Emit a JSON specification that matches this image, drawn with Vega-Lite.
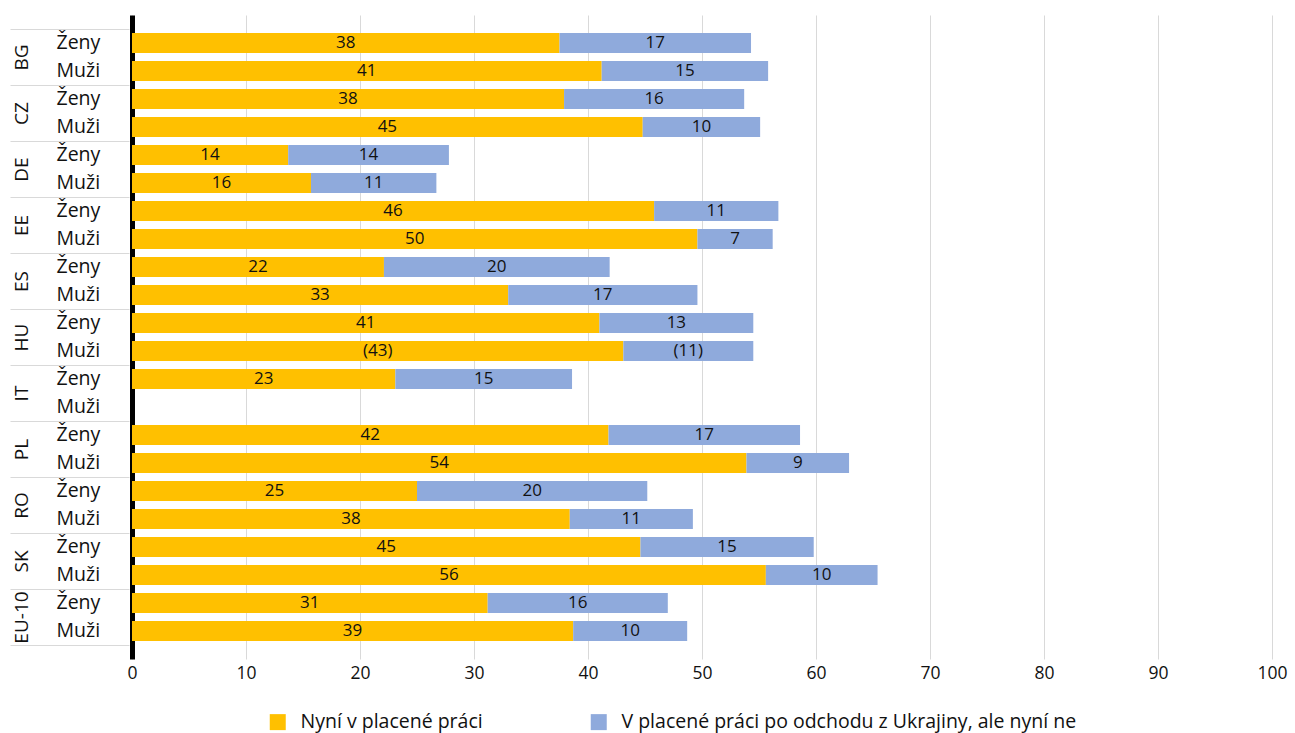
{
  "$schema": "https://vega.github.io/schema/vega-lite/v6.json",
  "width": 1140,
  "height": 644,
  "autosize": {"type": "none"},
  "padding": {"left": 132, "top": 15, "right": 23, "bottom": 74},
  "background": "white",
  "config": {"view": {"stroke": null}, "font": "Open Sans"},
  "data": {
    "values": [
      {"country": "BG", "key": "BG Ženy", "series": "Nyní v placené práci", "value": 37.5, "label": "38"},
      {"country": "BG", "key": "BG Ženy", "series": "V placené práci po odchodu z Ukrajiny, ale nyní ne", "value": 16.8, "label": "17"},
      {"country": "BG", "key": "BG Muži", "series": "Nyní v placené práci", "value": 41.2, "label": "41"},
      {"country": "BG", "key": "BG Muži", "series": "V placené práci po odchodu z Ukrajiny, ale nyní ne", "value": 14.6, "label": "15"},
      {"country": "CZ", "key": "CZ Ženy", "series": "Nyní v placené práci", "value": 37.9, "label": "38"},
      {"country": "CZ", "key": "CZ Ženy", "series": "V placené práci po odchodu z Ukrajiny, ale nyní ne", "value": 15.8, "label": "16"},
      {"country": "CZ", "key": "CZ Muži", "series": "Nyní v placené práci", "value": 44.8, "label": "45"},
      {"country": "CZ", "key": "CZ Muži", "series": "V placené práci po odchodu z Ukrajiny, ale nyní ne", "value": 10.3, "label": "10"},
      {"country": "DE", "key": "DE Ženy", "series": "Nyní v placené práci", "value": 13.7, "label": "14"},
      {"country": "DE", "key": "DE Ženy", "series": "V placené práci po odchodu z Ukrajiny, ale nyní ne", "value": 14.1, "label": "14"},
      {"country": "DE", "key": "DE Muži", "series": "Nyní v placené práci", "value": 15.7, "label": "16"},
      {"country": "DE", "key": "DE Muži", "series": "V placené práci po odchodu z Ukrajiny, ale nyní ne", "value": 11.0, "label": "11"},
      {"country": "EE", "key": "EE Ženy", "series": "Nyní v placené práci", "value": 45.8, "label": "46"},
      {"country": "EE", "key": "EE Ženy", "series": "V placené práci po odchodu z Ukrajiny, ale nyní ne", "value": 10.9, "label": "11"},
      {"country": "EE", "key": "EE Muži", "series": "Nyní v placené práci", "value": 49.6, "label": "50"},
      {"country": "EE", "key": "EE Muži", "series": "V placené práci po odchodu z Ukrajiny, ale nyní ne", "value": 6.6, "label": "7"},
      {"country": "ES", "key": "ES Ženy", "series": "Nyní v placené práci", "value": 22.1, "label": "22"},
      {"country": "ES", "key": "ES Ženy", "series": "V placené práci po odchodu z Ukrajiny, ale nyní ne", "value": 19.8, "label": "20"},
      {"country": "ES", "key": "ES Muži", "series": "Nyní v placené práci", "value": 33.0, "label": "33"},
      {"country": "ES", "key": "ES Muži", "series": "V placené práci po odchodu z Ukrajiny, ale nyní ne", "value": 16.6, "label": "17"},
      {"country": "HU", "key": "HU Ženy", "series": "Nyní v placené práci", "value": 41.0, "label": "41"},
      {"country": "HU", "key": "HU Ženy", "series": "V placené práci po odchodu z Ukrajiny, ale nyní ne", "value": 13.5, "label": "13"},
      {"country": "HU", "key": "HU Muži", "series": "Nyní v placené práci", "value": 43.1, "label": "(43)"},
      {"country": "HU", "key": "HU Muži", "series": "V placené práci po odchodu z Ukrajiny, ale nyní ne", "value": 11.4, "label": "(11)"},
      {"country": "IT", "key": "IT Ženy", "series": "Nyní v placené práci", "value": 23.1, "label": "23"},
      {"country": "IT", "key": "IT Ženy", "series": "V placené práci po odchodu z Ukrajiny, ale nyní ne", "value": 15.5, "label": "15"},
      {"country": "PL", "key": "PL Ženy", "series": "Nyní v placené práci", "value": 41.8, "label": "42"},
      {"country": "PL", "key": "PL Ženy", "series": "V placené práci po odchodu z Ukrajiny, ale nyní ne", "value": 16.8, "label": "17"},
      {"country": "PL", "key": "PL Muži", "series": "Nyní v placené práci", "value": 53.9, "label": "54"},
      {"country": "PL", "key": "PL Muži", "series": "V placené práci po odchodu z Ukrajiny, ale nyní ne", "value": 9.0, "label": "9"},
      {"country": "RO", "key": "RO Ženy", "series": "Nyní v placené práci", "value": 25.0, "label": "25"},
      {"country": "RO", "key": "RO Ženy", "series": "V placené práci po odchodu z Ukrajiny, ale nyní ne", "value": 20.2, "label": "20"},
      {"country": "RO", "key": "RO Muži", "series": "Nyní v placené práci", "value": 38.4, "label": "38"},
      {"country": "RO", "key": "RO Muži", "series": "V placené práci po odchodu z Ukrajiny, ale nyní ne", "value": 10.8, "label": "11"},
      {"country": "SK", "key": "SK Ženy", "series": "Nyní v placené práci", "value": 44.6, "label": "45"},
      {"country": "SK", "key": "SK Ženy", "series": "V placené práci po odchodu z Ukrajiny, ale nyní ne", "value": 15.2, "label": "15"},
      {"country": "SK", "key": "SK Muži", "series": "Nyní v placené práci", "value": 55.6, "label": "56"},
      {"country": "SK", "key": "SK Muži", "series": "V placené práci po odchodu z Ukrajiny, ale nyní ne", "value": 9.8, "label": "10"},
      {"country": "EU-10", "key": "EU-10 Ženy", "series": "Nyní v placené práci", "value": 31.2, "label": "31"},
      {"country": "EU-10", "key": "EU-10 Ženy", "series": "V placené práci po odchodu z Ukrajiny, ale nyní ne", "value": 15.8, "label": "16"},
      {"country": "EU-10", "key": "EU-10 Muži", "series": "Nyní v placené práci", "value": 38.7, "label": "39"},
      {"country": "EU-10", "key": "EU-10 Muži", "series": "V placené práci po odchodu z Ukrajiny, ale nyní ne", "value": 10.0, "label": "10"}
    ]
  },
  "layer": [
    {
      "encoding": {
        "y": {
          "field": "key",
          "type": "nominal",
          "scale": {
            "type": "band",
            "domain": ["BG Ženy", "BG Muži", "CZ Ženy", "CZ Muži", "DE Ženy", "DE Muži", "EE Ženy", "EE Muži", "ES Ženy", "ES Muži", "HU Ženy", "HU Muži", "IT Ženy", "IT Muži", "PL Ženy", "PL Muži", "RO Ženy", "RO Muži", "SK Ženy", "SK Muži", "EU-10 Ženy", "EU-10 Muži"],
            "paddingInner": 0.29,
            "paddingOuter": 0.645
          },
          "axis": {
            "orient": "left",
            "title": null,
            "domain": true,
            "domainColor": "#000000",
            "domainWidth": 5,
            "ticks": false,
            "grid": false,
            "labelAlign": "left",
            "labelBaseline": "middle",
            "labelPadding": 76,
            "labelFontSize": 19.5,
            "labelColor": "#111111",
            "labelExpr": "split(datum.value, ' ')[1]"
          }
        },
        "x": {
          "field": "value",
          "type": "quantitative",
          "stack": "zero",
          "scale": {"domain": [0, 100], "nice": false},
          "axis": {
            "orient": "bottom",
            "title": null,
            "domain": false,
            "ticks": false,
            "values": [0, 10, 20, 30, 40, 50, 60, 70, 80, 90, 100],
            "grid": true,
            "gridColor": "#d9d9d9",
            "gridWidth": 1,
            "labelFlush": false,
            "labelFontSize": 17.5,
            "labelColor": "#111111",
            "labelPadding": 5
          }
        },
        "order": {"field": "series", "sort": "ascending"}
      },
      "layer": [
        {
          "mark": {"type": "bar"},
          "encoding": {
            "color": {
              "field": "series",
              "type": "nominal",
              "scale": {
                "domain": ["Nyní v placené práci", "V placené práci po odchodu z Ukrajiny, ale nyní ne"],
                "range": ["#FFC000", "#8FAADC"]
              },
              "legend": {
                "orient": "none",
                "legendX": 136,
                "legendY": 697,
                "direction": "horizontal",
                "title": null,
                "symbolType": "square",
                "symbolSize": 256,
                "symbolStrokeWidth": 0,
                "labelFontSize": 19.5,
                "labelColor": "#111111",
                "labelOffset": 13,
                "columnPadding": 106,
                "padding": 0,
                "labelLimit": 0
              }
            }
          }
        },
        {
          "mark": {"type": "text", "fontSize": 17, "color": "#111111", "baseline": "middle", "align": "center"},
          "encoding": {
            "x": {"field": "value", "type": "quantitative", "stack": "zero", "bandPosition": 0.5},
            "detail": {"field": "series"},
            "text": {"field": "label"}
          }
        }
      ]
    },
    {
      "mark": {"type": "point", "opacity": 0},
      "encoding": {
        "y": {
          "field": "country",
          "type": "nominal",
          "scale": {
            "type": "band",
            "domain": ["BG", "CZ", "DE", "EE", "ES", "HU", "IT", "PL", "RO", "SK", "EU-10"],
            "paddingInner": 0,
            "paddingOuter": 0.25
          },
          "axis": {
            "orient": "left",
            "title": null,
            "domain": false,
            "ticks": true,
            "tickBand": "extent",
            "tickSize": 119,
            "tickColor": "#d9d9d9",
            "tickWidth": 1,
            "offset": 3,
            "grid": false,
            "labelAngle": -90,
            "labelAlign": "center",
            "labelBaseline": "middle",
            "labelPadding": -11,
            "labelFontSize": 19,
            "labelColor": "#111111"
          }
        }
      }
    }
  ],
  "resolve": {"scale": {"y": "independent"}, "axis": {"y": "independent"}}
}
